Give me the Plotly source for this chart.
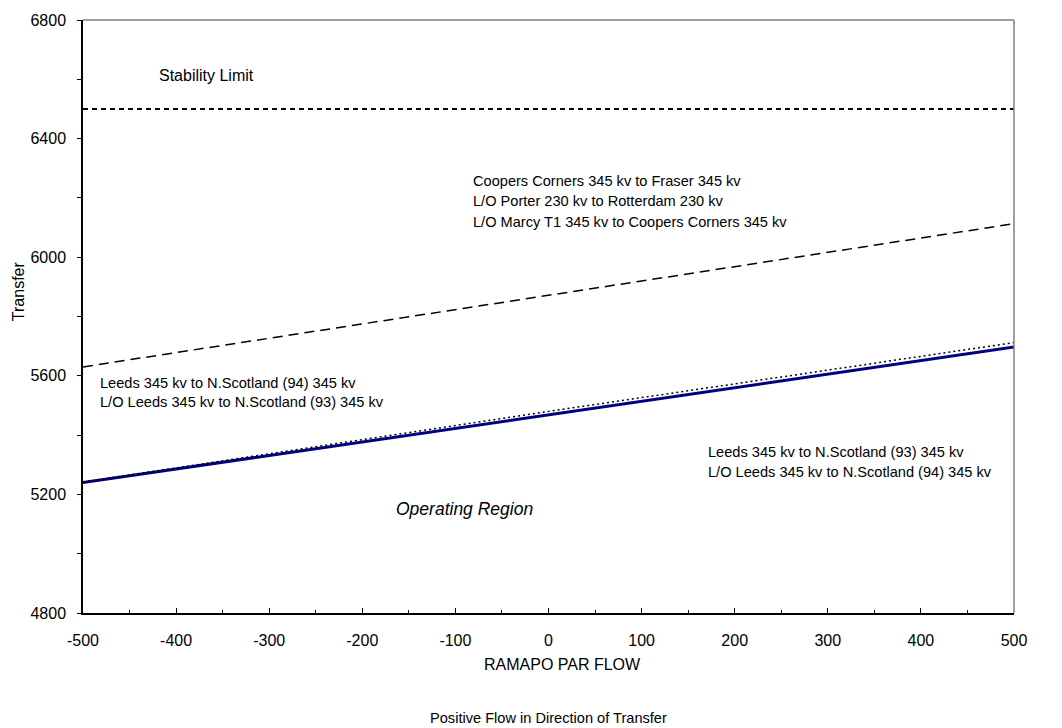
import plotly.graph_objects as go

# Data
ramapo_flow = [-500, 0, 500]
stability_limit = [6500, 6500, 6500]
coopers_corners = [5630, 5872, 6113]
leeds_93 = [5240, 5468, 5697]
leeds_94 = [5242, 5480, 5712]

x_ticks = [-500, -400, -300, -200, -100, 0, 100, 200, 300, 400, 500]
y_ticks = [4800, 5200, 5600, 6000, 6400, 6800]

FONT = "Liberation Sans, Arial, sans-serif"

fig = go.Figure()
fig.add_trace(go.Scatter(x=ramapo_flow, y=stability_limit, mode="lines",
                         line=dict(color="black", width=2, dash="5px,4px"),
                         showlegend=False, hoverinfo="skip"))
fig.add_trace(go.Scatter(x=ramapo_flow, y=coopers_corners, mode="lines",
                         line=dict(color="black", width=1.5, dash="10px,6px"),
                         showlegend=False, hoverinfo="skip"))
fig.add_trace(go.Scatter(x=ramapo_flow, y=leeds_93, mode="lines",
                         line=dict(color="#000080", width=3),
                         showlegend=False, hoverinfo="skip"))
fig.add_trace(go.Scatter(x=ramapo_flow, y=leeds_94, mode="lines",
                         line=dict(color="black", width=1.5, dash="2px,3px"),
                         showlegend=False, hoverinfo="skip"))

def txt(x, y, s, size=14.6, italic=False):
    fig.add_annotation(x=x, y=y, xref="x", yref="y", text=s, showarrow=False,
                       xanchor="left", yanchor="middle",
                       font=dict(family=FONT, size=size, color="black",
                                 style="italic" if italic else "normal"))

txt(-421, 6612, "Stability Limit", size=16)
txt(-83, 6257, "Coopers Corners 345 kv to Fraser 345 kv")
txt(-83, 6190, "L/O Porter 230 kv to Rotterdam 230 kv")
txt(-83, 6120, "L/O Marcy T1 345 kv to Coopers Corners 345 kv")
txt(-484, 5575, "Leeds 345 kv to N.Scotland (94) 345 kv")
txt(-484, 5510, "L/O Leeds 345 kv to N.Scotland (93) 345 kv")
txt(169, 5343, "Leeds 345 kv to N.Scotland (93) 345 kv")
txt(169, 5276, "L/O Leeds 345 kv to N.Scotland (94) 345 kv")
txt(-166, 5152, "Operating Region", size=17.5, italic=True)

# Axis titles
fig.add_annotation(x=0.5, y=0, xref="paper", yref="paper", text="RAMAPO PAR FLOW",
                   showarrow=False, xanchor="center", yanchor="middle",
                   xshift=14, yshift=-51, font=dict(family=FONT, size=16, color="black"))
fig.add_annotation(x=0.5, y=0, xref="paper", yref="paper",
                   text="Positive Flow in Direction of Transfer",
                   showarrow=False, xanchor="center", yanchor="middle",
                   yshift=-105, font=dict(family=FONT, size=14.6, color="black"))
fig.add_annotation(x=0, y=0.5427, xref="paper", yref="paper", text="Transfer",
                   showarrow=False, textangle=-90, xanchor="center", yanchor="middle",
                   xshift=-65, font=dict(family=FONT, size=16, color="black"))

# Gray frame on top and right
fig.add_shape(type="line", xref="paper", yref="paper", x0=0, x1=1, y0=1, y1=1,
              line=dict(color="#808080", width=1.5))
fig.add_shape(type="line", xref="paper", yref="paper", x0=1, x1=1, y0=0, y1=1,
              line=dict(color="#808080", width=1.5))

fig.update_layout(
    width=1062, height=728,
    margin=dict(l=83, r=48, t=16, b=115),
    paper_bgcolor="white", plot_bgcolor="white",
    font=dict(family=FONT, size=16, color="black"),
    xaxis=dict(range=[-500, 500], tickvals=x_ticks, ticktext=[str(v) for v in x_ticks],
               showgrid=False, zeroline=False, showline=True, linecolor="black", linewidth=1.5,
               ticks="inside", ticklen=5, tickcolor="black", ticklabelstandoff=12,
               minor=dict(dtick=50, ticks="inside", ticklen=3, tickcolor="black", showgrid=False),
               tickfont=dict(family=FONT, size=16, color="black")),
    yaxis=dict(range=[4800, 6800], tickvals=y_ticks, ticktext=[str(v) for v in y_ticks],
               showgrid=False, zeroline=False, showline=True, linecolor="black", linewidth=1.5,
               ticks="outside", ticklen=4, tickcolor="black", ticklabelstandoff=8,
               minor=dict(dtick=200, tick0=4800, ticks="outside", ticklen=4, tickcolor="black", showgrid=False),
               tickfont=dict(family=FONT, size=16, color="black")),
)

fig.write_html("out.html", config={"displayModeBar": False},
               post_script="document.body.style.margin='0';document.body.style.overflow='hidden';")
